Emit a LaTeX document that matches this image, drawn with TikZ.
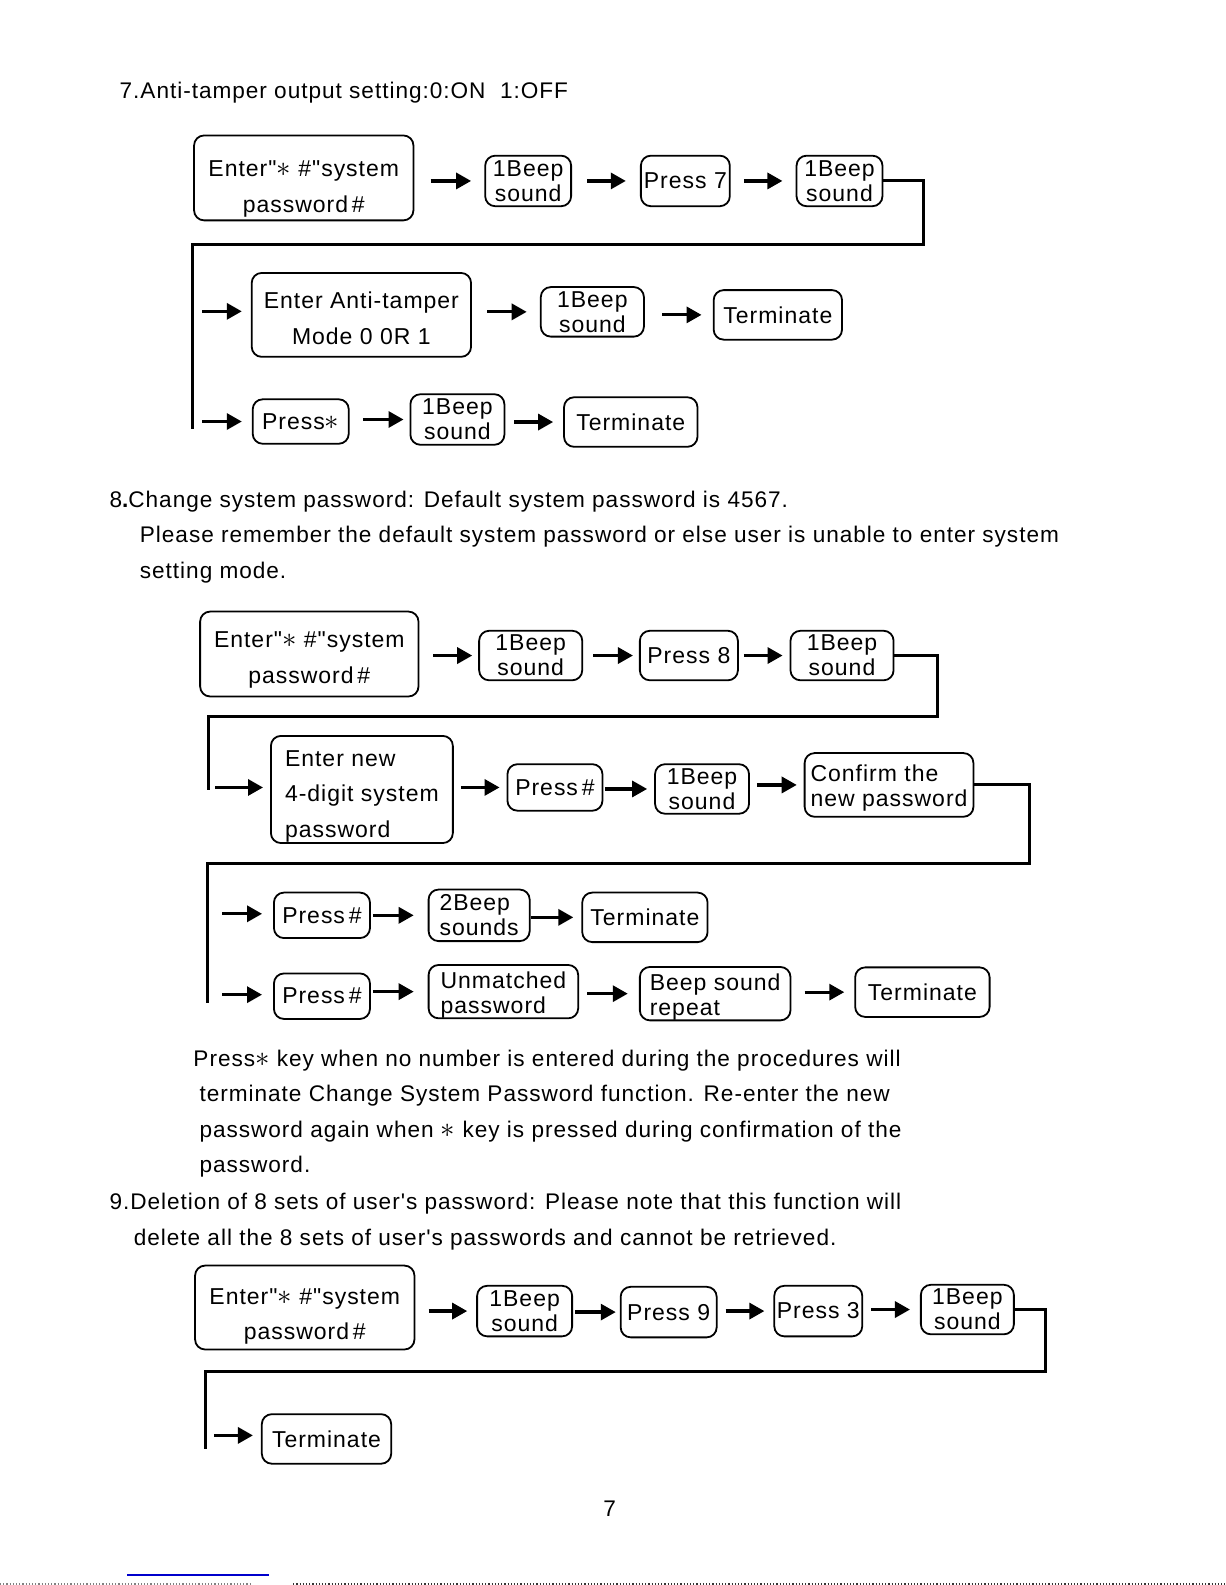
\documentclass[tikz,border=0pt]{standalone}
\usepackage{fontspec}
\setmainfont{Liberation Sans}[LetterSpace=4.3,Ligatures=TeXOff]
\usetikzlibrary{arrows.meta}
\tikzset{
  bx/.style={draw, rounded corners=5pt, line width=0.9pt, inner sep=0pt,
    font=\fontsize{11.5}{12.6}\selectfont},
  big/.style={font=\fontsize{11.5}{17.7}\selectfont},
  arr/.style={line width=1.6pt, -{Triangle[length=7.5pt,width=8pt]}},
  conn/.style={line width=1.5pt},
  txt/.style={anchor=base west, inner sep=0pt, font=\fontsize{11.3}{13}\selectfont},
}
\newcommand\bx[7][]{\node[bx,align=center,#1,minimum width={(#5-#3)*0.50535pt},minimum height={(#6-#4)*0.50535pt}] (#2) at ({(#3+#5)/2},{(#4+#6)/2}) {#7};}
\newcommand\ar[4]{\draw[arr,shorten <=#3pt,shorten >=#4pt] (#1.east |- #2.west) -- (#2.west);}
\newcommand\st[3]{\draw[arr,shorten >=#3pt] (#1) -- (#1 -| #2.west);}
\newcommand\sx{{\fontsize{15}{12}\selectfont$\ast$}}
\newcommand\ts[1]{\rule{0pt}{#1pt}}
\begin{document}
\begin{tikzpicture}[x=0.50535pt,y=-0.50535pt]
\useasboundingbox (0,0) rectangle (1212,1568);

% ---------- Section 7 ----------
\node[txt] (t7) at (118,97) {7.Anti-tamper output setting:0:ON\ \ 1:OFF};
\bx[big]{a1}{192}{134}{409}{218}{\ts{18.8}Enter"\sx\ \#"system\\password\,\#}
\bx{b1}{480}{154}{565}{204}{1Beep\\sound}
\bx{p7}{634}{154}{722}{204}{Press 7}
\bx{b2}{788}{154}{873}{204}{1Beep\\sound}
\ar{a1}{b1}{8.1}{6.6}
\ar{b1}{p7}{7.6}{7.1}
\ar{p7}{b2}{6.6}{6.6}
\coordinate (c7a) at (914,242);
\coordinate (c7b) at (190,242);
\coordinate (c7c) at (190,424);
\draw[conn] (b2.east) -| (c7a) -- (c7b) -- (c7c);

\bx[big]{m1}{249}{270}{466}{353}{\ts{11.7}Enter Anti-tamper\\Mode 0 0R 1}
\bx{b3}{535}{284}{637}{333}{1Beep\\sound}
\bx{t1}{706}{287}{833}{336}{Terminate}
\coordinate (s7a) at (200,308);
\st{s7a}{m1}{4.5}
\ar{m1}{b3}{7.6}{6.6}
\ar{b3}{t1}{8.6}{5.6}

\bx{ps}{250}{395}{345}{439}{Press\sx}
\bx{b4}{406}{390}{499}{440}{1Beep\\sound}
\bx{t2}{558}{393}{690}{442}{Terminate}
\coordinate (s7b) at (200,417);
\st{s7b}{ps}{5}
\ar{ps}{b4}{6.6}{3}
\ar{b4}{t2}{4.5}{5}

% ---------- Section 8 ----------
\node[txt] (t8a) at (108,502) {8{\bfseries .}Change system password: Default system password is 4567.};
\node[txt] (t8b) at (138,537) {Please remember the default system password or else user is unable to enter system};
\node[txt] (t8c) at (138,572) {setting mode.};

\bx[big]{a2}{198}{605}{414}{689}{\ts{13.7}Enter"\sx\ \#"system\\password\,\#}
\bx{c1}{474}{624}{576}{673}{1Beep\\sound}
\bx{p8}{633}{624}{730}{673}{Press 8}
\bx{c2}{782}{624}{884}{673}{1Beep\\sound}
\ar{a2}{c1}{7}{3}
\ar{c1}{p8}{5}{3}
\ar{p8}{c2}{2.5}{3.5}
\coordinate (c8a) at (927,709);
\coordinate (c8b) at (206,709);
\coordinate (c8c) at (206,782);
\draw[conn] (c2.east) -| (c8a) -- (c8b) -- (c8c);

\bx[big,align=left]{n1}{268}{728}{448}{834}{\ts{14.7}Enter new\\4-digit system\\password}
\bx{ph1}{502}{756}{596}{802}{Press\,\#}
\bx{c3}{648}{756}{741}{805}{1Beep\\sound}
\bx[align=left]{cf}{796}{745}{963}{808}{\ts{11.3}Confirm the\\new password}
\coordinate (s8a) at (213,779);
\st{s8a}{n1}{3.5}
\ar{n1}{ph1}{3.5}{3.5}
\ar{ph1}{c3}{1}{3.5}
\ar{c3}{cf}{3.5}{3.5}
\coordinate (c8d) at (1018,854);
\coordinate (c8e) at (205,854);
\coordinate (c8f) at (205,992);
\draw[conn] (cf.east) -| (c8d) -- (c8e) -- (c8f);

\bx{ph2}{271}{883}{366}{928}{Press\,\#}
\bx[align=left]{s2}{424}{880}{524}{931}{2Beep\\sounds}
\bx{t3}{576}{883}{700}{932}{Terminate}
\coordinate (s8b) at (220,904);
\st{s8b}{ph2}{5.5}
\ar{ph2}{s2}{1}{7}
\ar{s2}{t3}{0}{4}

\bx{ph3}{271}{963}{366}{1008}{Press\,\#}
\bx[align=left]{u1}{424}{955}{572}{1007}{\ts{11.7}Unmatched\\password}
\bx[align=left]{r1}{633}{958}{782}{1008}{\ts{11.7}Beep sound\\repeat}
\bx{t4}{846}{957}{979}{1006}{Terminate}
\coordinate (s8c) at (220,984);
\st{s8c}{ph3}{5.5}
\ar{ph3}{u1}{1}{7}
\ar{u1}{r1}{4}{5.6}
\ar{r1}{t4}{6.6}{5}

\node[txt] (p1) at (191,1055) {Press\sx\ key when no number is entered during the procedures will};
\node[txt] (p2) at (197,1090) {terminate Change System Password function. Re-enter the new};
\node[txt] (p3) at (197,1125) {password again when \sx\ key is pressed during confirmation of the};
\node[txt] (p4) at (197,1160) {password.};

% ---------- Section 9 ----------
\node[txt] (t9a) at (108,1197) {9.Deletion of 8 sets of user's password: Please note that this function will};
\node[txt] (t9b) at (132,1232) {delete all the 8 sets of user's passwords and cannot be retrieved.};

\bx[big]{a3}{193}{1252}{410}{1335}{\ts{16.7}Enter"\sx\ \#"system\\password\,\#}
\bx{d1}{472}{1272}{566}{1322}{1Beep\\sound}
\bx{p9}{614}{1273}{709}{1323}{Press 9}
\bx{p3b}{766}{1272}{853}{1322}{Press 3}
\bx{d2}{911}{1271}{1003}{1320}{1Beep\\sound}
\ar{a3}{d1}{6.6}{4.5}
\ar{d1}{p9}{1}{2}
\ar{p9}{p3b}{4}{4.5}
\ar{p3b}{d2}{4}{5}
\coordinate (c9a) at (1034,1357);
\coordinate (c9b) at (203,1357);
\coordinate (c9c) at (203,1433);
\draw[conn] (d2.east) -| (c9a) -- (c9b) -- (c9c);

\bx{t5}{259}{1399}{387}{1448}{Terminate}
\coordinate (s9a) at (212,1420);
\st{s9a}{t5}{4}

\node[txt, anchor=base] (pg) at (603,1500) {7};

% bottom scan artefacts
\coordinate (bl1) at (126,1558);
\coordinate (bl2) at (266,1558);
\draw[blue!80!black, line width=0.6pt] (bl1) -- (bl2);
\coordinate (dl1) at (0,1567);
\coordinate (dl2) at (248,1567);
\coordinate (dl3) at (290,1567);
\coordinate (dl4) at (1212,1567);
\draw[gray, line width=0.6pt, densely dotted] (dl1) -- (dl2);
\draw[black!80, line width=0.6pt, densely dotted] (dl3) -- (dl4);
\end{tikzpicture}
\end{document}
